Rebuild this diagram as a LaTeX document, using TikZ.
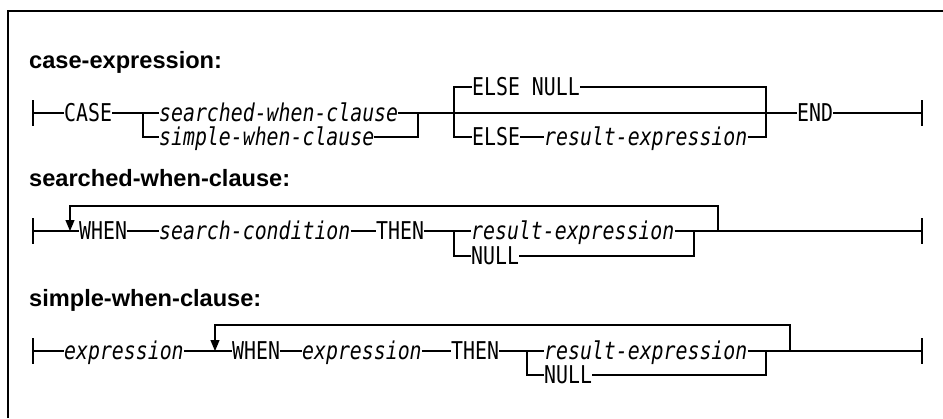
\documentclass[tikz,border=0pt]{standalone}
\usepackage{fontspec}
\usetikzlibrary{arrows.meta}
\newfontfamily\rrfont[FakeStretch=0.81]{DejaVu Sans Mono}
\newfontfamily\titlefont{Liberation Sans}
\begin{document}
\begin{tikzpicture}[x=1pt,y=-1pt,
  kw/.style={inner sep=0pt, anchor=west, text height=17.8pt, text depth=0pt,
    font=\rrfont\fontsize{24.5}{26}\selectfont},
  var/.style={kw, font=\rrfont\fontsize{24.5}{26}\selectfont\itshape},
  ttl/.style={anchor=base west, inner sep=0pt,
    font=\titlefont\fontsize{23.6}{26}\selectfont\bfseries},
  rail/.style={line width=1.2pt},
  frame/.style={line width=1.4pt},
  loopback/.style={rail, -{Triangle[width=9pt,length=11pt]}}
]
\useasboundingbox (0,0) rectangle (943,418);
\draw[frame] (8,418) -- (8,11) -- (943,11);

% ---------- case-expression ----------
\node[ttl] (t1) at (29,68) {case-expression:};
\coordinate (s1) at (33,113);
\draw[rail] (33,100) -- (33,126);
\node[kw] (case) at (64,113) {CASE};
\coordinate (b1) at (143,113);
\coordinate (b1d) at (143,137);
\node[var] (swc) at (159,113) {searched-when-clause};
\node[var] (smwc) at (159,137) {simple-when-clause};
\coordinate (j1) at (418,113);
\coordinate (j1d) at (418,137);
\coordinate (b2) at (454,113);
\coordinate (b2u) at (454,87);
\coordinate (b2d) at (454,137);
\node[kw] (elsenull) at (472,87) {ELSE NULL};
\node[kw] (else) at (472,137) {ELSE};
\node[var] (re1) at (544,137) {result-expression};
\coordinate (j2) at (766,113);
\coordinate (j2u) at (766,87);
\coordinate (j2d) at (766,137);
\node[kw] (end) at (797,113) {END};
\coordinate (e1) at (922,113);
\draw[rail] (922,100) -- (922,126);
\draw[rail] (s1) -- (case.west);
\draw[rail] (case.east) -- (b1) -- (swc.west);
\draw[rail] (b1) -- (b1d) -- (smwc.west);
\draw[rail] (swc.east) -- (j1);
\draw[rail] (smwc.east) -- (j1d) -- (j1);
\draw[rail] (j1) -- (b2) -- (j2);
\draw[rail] (b2) -- (b2u) -- (elsenull.west);
\draw[rail] (elsenull.east) -- (j2u) -- (j2);
\draw[rail] (b2) -- (b2d) -- (else.west);
\draw[rail] (else.east) -- (re1.west);
\draw[rail] (re1.east) -- (j2d) -- (j2);
\draw[rail] (j2) -- (end.west);
\draw[rail] (end.east) -- (e1);

% ---------- searched-when-clause ----------
\node[ttl] (t2) at (29,186) {searched-when-clause:};
\coordinate (s2) at (33,231);
\draw[rail] (33,218) -- (33,244);
\coordinate (a2) at (70,231);
\coordinate (a2t) at (70,206);
\node[kw] (when2) at (79,231) {WHEN};
\node[var] (sc) at (159,231) {search-condition};
\node[kw] (then2) at (376,231) {THEN};
\coordinate (b3) at (454,231);
\coordinate (b3d) at (454,256);
\node[var] (re2) at (471,231) {result-expression};
\node[kw] (null2) at (471,256) {NULL};
\coordinate (j3) at (694,231);
\coordinate (j3d) at (694,256);
\coordinate (r2) at (718,231);
\coordinate (r2t) at (718,206);
\coordinate (e2) at (922,231);
\draw[rail] (922,218) -- (922,244);
\draw[rail] (s2) -- (when2.west);
\draw[loopback] (r2) -- (r2t) -- (a2t) -- (a2);
\draw[rail] (when2.east) -- (sc.west);
\draw[rail] (sc.east) -- (then2.west);
\draw[rail] (then2.east) -- (b3) -- (re2.west);
\draw[rail] (b3) -- (b3d) -- (null2.west);
\draw[rail] (re2.east) -- (j3);
\draw[rail] (null2.east) -- (j3d) -- (j3);
\draw[rail] (j3) -- (e2);

% ---------- simple-when-clause ----------
\node[ttl] (t3) at (29,306) {simple-when-clause:};
\coordinate (s3) at (33,351);
\draw[rail] (33,338) -- (33,364);
\node[var] (ex1) at (64,351) {expression};
\coordinate (a3) at (215,351);
\coordinate (a3t) at (215,325);
\node[kw] (when3) at (232,351) {WHEN};
\node[var] (ex2) at (302,351) {expression};
\node[kw] (then3) at (451,351) {THEN};
\coordinate (b4) at (527,351);
\coordinate (b4d) at (527,375);
\node[var] (re3) at (544,351) {result-expression};
\node[kw] (null3) at (544,375) {NULL};
\coordinate (j4) at (766,351);
\coordinate (j4d) at (766,375);
\coordinate (r3) at (790,351);
\coordinate (r3t) at (790,325);
\coordinate (e3) at (922,351);
\draw[rail] (922,338) -- (922,364);
\draw[rail] (s3) -- (ex1.west);
\draw[rail] (ex1.east) -- (when3.west);
\draw[loopback] (r3) -- (r3t) -- (a3t) -- (a3);
\draw[rail] (when3.east) -- (ex2.west);
\draw[rail] (ex2.east) -- (then3.west);
\draw[rail] (then3.east) -- (b4) -- (re3.west);
\draw[rail] (b4) -- (b4d) -- (null3.west);
\draw[rail] (re3.east) -- (j4);
\draw[rail] (null3.east) -- (j4d) -- (j4);
\draw[rail] (j4) -- (e3);
\end{tikzpicture}
\end{document}
